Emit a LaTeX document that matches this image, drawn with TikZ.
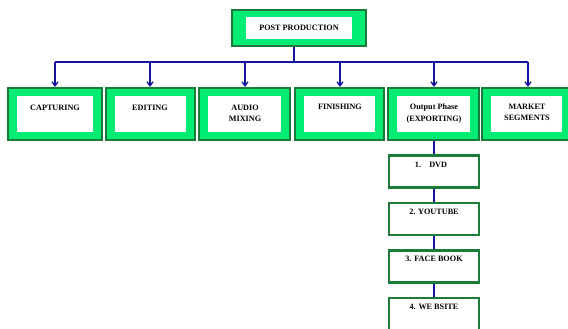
\documentclass[tikz,border=0pt]{standalone}
\usepackage{fontspec}
\setmainfont{Liberation Serif}
\usetikzlibrary{arrows.meta}
\definecolor{boxgreen}{HTML}{00EC72}
\definecolor{edgegreen}{HTML}{1C7A3A}
\definecolor{linkblue}{HTML}{1414A0}
\tikzset{
  x=1pt, y=-1pt,
  outerbox/.style={draw=edgegreen, line width=2.2pt, fill=boxgreen, inner sep=0pt},
  chainbox/.style={draw=edgegreen, line width=2.5pt, fill=white, inner sep=0pt, minimum width=90pt, minimum height=32pt},
  label/.style={font=\bfseries\fontsize{8.2}{11.5}\selectfont, align=center, inner sep=0pt, anchor=north, text=black},
  link/.style={draw=linkblue, line width=1.3pt},
  arrowlink/.style={link, -{Straight Barb[length=4pt,width=6pt,line width=1.3pt]}}
}
\newcommand{\greenbox}[6]{% name, x1, x2, y1, y2, padx
  \node[outerbox, minimum width={#3-#2}, minimum height={#5-#4}] (#1) at ({(#2+#3)/2},{(#4+#5)/2}) {};
  \fill[white] ([xshift=#6pt,yshift=-9.5pt]#1.north west) rectangle ([xshift=-#6pt,yshift=9.5pt]#1.south east);
}
\begin{document}
\begin{tikzpicture}
\useasboundingbox (0,0) rectangle (568,329);
% top box
\node[outerbox, minimum width=134pt, minimum height=36pt] (top) at (299,28) {};
\fill[white] ([xshift=15pt,yshift=-8.5pt]top.north west) rectangle ([xshift=-15pt,yshift=8.5pt]top.south east);
\node[label] (ttop) at (299,25) {POST PRODUCTION};
% row boxes
\greenbox{cap}{8}{102}{88}{140}{10}
\greenbox{edi}{106}{195}{88}{140}{10}
\greenbox{aud}{199}{290}{88}{140}{10}
\greenbox{fin}{295}{384}{88}{140}{10}
\greenbox{out}{388}{479}{88}{140}{10}
\greenbox{mkt}{482}{571}{88}{140}{10}
\node[label] (tcap) at (55,104.5) {CAPTURING};
\node[label] (tedi) at (150,104.5) {EDITING};
\node[label] (taud) at (245,104.5) {AUDIO\\MIXING};
\node[label] (tfin) at (340,103.5) {FINISHING};
\node[label] (tout) at (434,104) {Output Phase\\(EXPORTING)};
\node[label] (tmkt) at (527,103.5) {MARKET\\SEGMENTS};
% bus
\coordinate (bus) at (294,62);
\draw[link] (bus |- top.south) -- (bus);
\coordinate (a1) at (55,62);
\coordinate (a2) at (150,62);
\coordinate (a3) at (245,62);
\coordinate (a4) at (340,62);
\coordinate (a5) at (434,62);
\coordinate (a6) at (528,62);
\draw[link] (a1) -- (a6);
\draw[arrowlink] (a1) -- (a1 |- cap.north);
\draw[arrowlink] (a2) -- (a2 |- edi.north);
\draw[arrowlink] (a3) -- (a3 |- aud.north);
\draw[arrowlink] (a4) -- (a4 |- fin.north);
\draw[arrowlink] (a5) -- (a5 |- out.north);
\draw[arrowlink] (a6) -- (a6 |- mkt.north);
% chain
\node[chainbox] (dvd) at (434,171.5) {};
\node[chainbox] (yt) at (434,219) {};
\node[chainbox] (fb) at (434,266.5) {};
\node[chainbox] (web) at (434,314) {};
\draw[link] (a5 |- out.south) -- (a5 |- dvd.north);
\draw[link] (a5 |- dvd.south) -- (a5 |- yt.north);
\draw[link] (a5 |- yt.south) -- (a5 |- fb.north);
\draw[link] (a5 |- fb.south) -- (a5 |- web.north);
\node[label] (tdvd) at (431,162) {1.\quad DVD};
\node[label] (tyt) at (434,209) {2. YOUTUBE};
\node[label] (tfb) at (434,255.5) {3. FACE BOOK};
\node[label] (tweb) at (434,304) {4. WE BSITE};
\end{tikzpicture}
\end{document}
